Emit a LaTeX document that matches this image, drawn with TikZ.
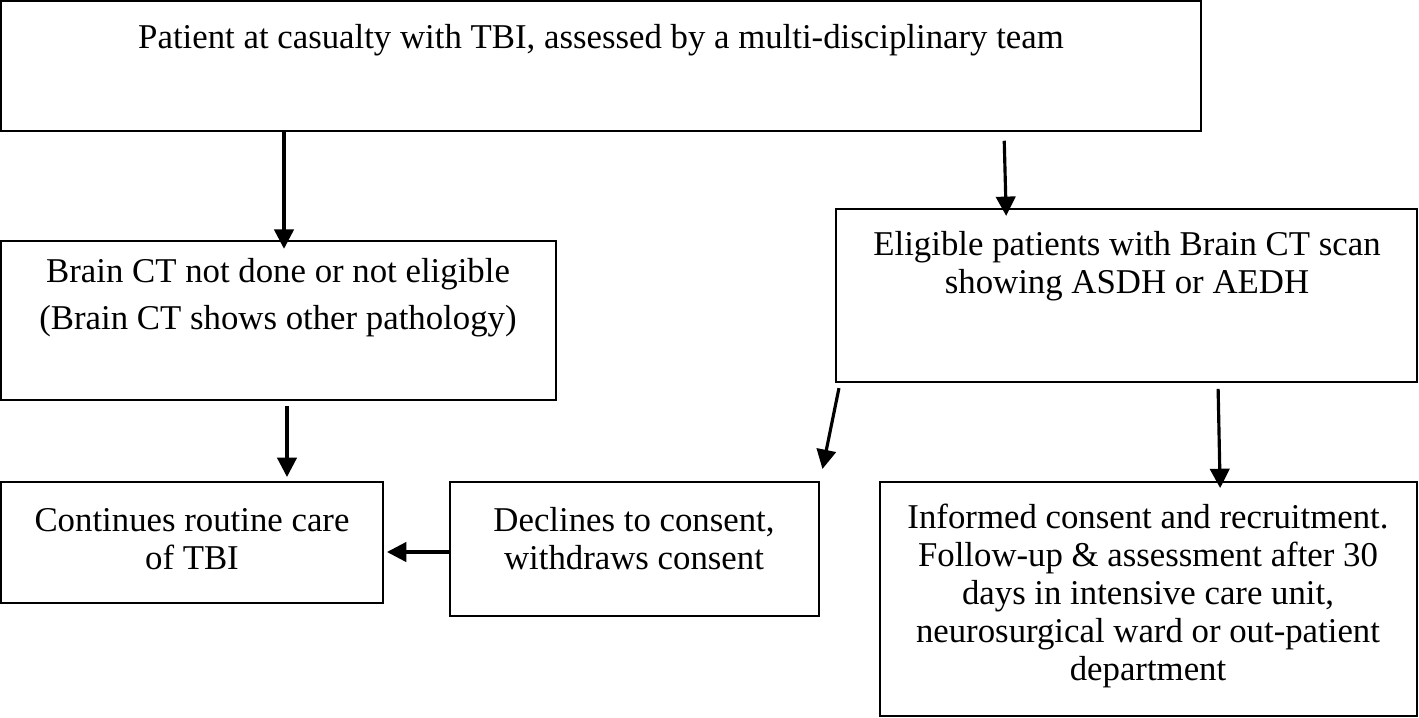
\documentclass[tikz,border=0pt]{standalone}
\usepackage{fontspec}
\setmainfont{Liberation Serif}
\usetikzlibrary{arrows.meta,fit}

\begin{document}
\begin{tikzpicture}[x=0.02cm,y=-0.02cm,
  box/.style={draw, line width=1.1pt, inner sep=0pt},
  txt/.style={align=center, font=\fontsize{19.8}{21.6}\selectfont, inner sep=0pt},
  arr/.style={-{Triangle[length=11pt,width=11pt]}, line width=1.8pt}]
\useasboundingbox (0,0) rectangle (1419,717);
% boxes
\node[box, fit={(1,1) (1201,131)}] (top) {};
\node[box, fit={(1,241) (556,400)}] (brainno) {};
\node[box, fit={(836,209) (1417,382)}] (eligible) {};
\node[box, fit={(1,482) (383,603)}] (routine) {};
\node[box, fit={(450,482) (819,616)}] (declines) {};
\node[box, fit={(880,482) (1417,716)}] (consent) {};
% texts
\node[txt] (toptext) at (601,40) {Patient at casualty with TBI, assessed by a multi-disciplinary team};
\node[txt] (brainnotext) at (278,298) {Brain CT not done or not eligible\\[5.2pt](Brain CT shows other pathology)};
\node[txt] (eligibletext) at (1127,266) {Eligible patients with Brain CT scan\\showing ASDH or AEDH};
\node[txt] (routinetext) at (192,539) {Continues routine care\\of TBI};
\node[txt] (declinestext) at (634,539) {Declines to consent,\\withdraws consent};
\node[txt] (consenttext) at (1148,596) {Informed consent and recruitment.\\Follow-up \& assessment after 30\\days in intensive care unit,\\neurosurgical ward or out-patient\\department};
% arrows
\draw[arr, shorten >=-5pt] (top.south -| 284,0) -- (brainno.north -| 284,0);
\draw[arr, shorten <=5pt, shorten >=-4.5pt] (top.south -| 1004,0) -- (eligible.north -| 1006,0);
\draw[arr, shorten <=3pt, shorten >=7pt] (eligible.south -| 840,0) -- (declines.north -| 820,0);
\draw[arr, shorten >=1.7pt] (declines.west |- 0,552) -- (routine.east |- 0,552);
\draw[arr, shorten <=3.4pt, shorten >=-4pt] (eligible.south -| 1218,0) -- (consent.north -| 1220,0);
\draw[arr, shorten <=2.8pt, shorten >=2.3pt] (brainno.south -| 287,0) -- (routine.north -| 287,0);
\end{tikzpicture}
\end{document}
